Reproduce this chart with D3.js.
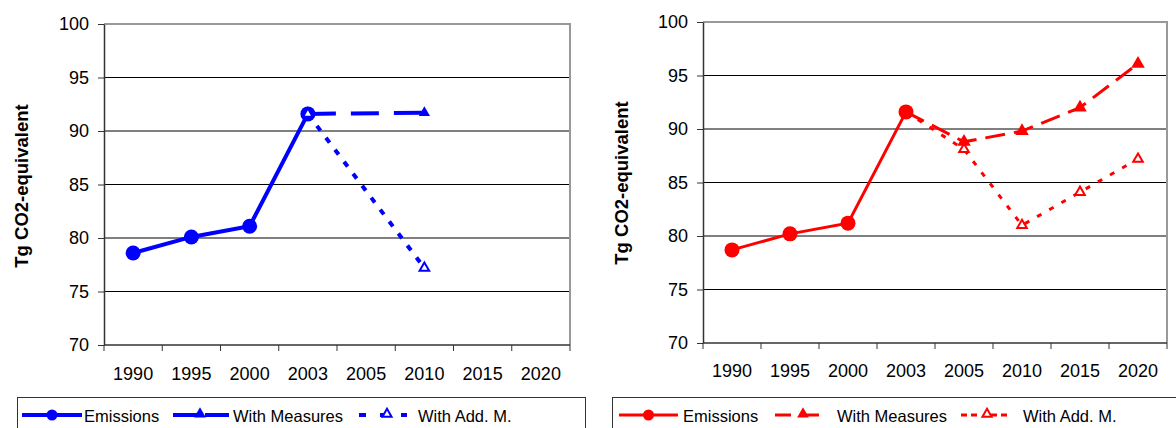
<!DOCTYPE html>
<meta charset="utf-8">
<body>
<script src="https://cdn.jsdelivr.net/npm/d3@7"></script>
<style>
    html, body {
        margin: 0;
        background: #fff;
    }
    text {
        font-family: "Liberation Sans", Arial, sans-serif;
        fill: #000;
    }
</style>
<script>
var years = ["1990", "1995", "2000", "2003", "2005", "2010", "2015", "2020"],
    yTicks = [70, 75, 80, 85, 90, 95, 100];

// left panel
var leftEmYears = ["1990", "1995", "2000", "2003"],
    leftEmissions = [78.6, 80.1, 81.1, 91.6],
    leftProjYears = ["2003", "2010"],
    leftWithMeasures = [91.6, 91.7],
    leftWithAddM = [91.6, 77.2];

// right panel
var rightEmYears = ["1990", "1995", "2000", "2003"],
    rightEmissions = [78.7, 80.2, 81.2, 91.6],
    rightProjYears = ["2003", "2005", "2010", "2015", "2020"],
    rightWithMeasures = [91.6, 88.8, 89.8, 92.0, 96.1],
    rightWithAddM = [91.6, 88.1, 81.0, 84.1, 87.2];

var legendLabels = ["Emissions", "With Measures", "With Add. M."];

var svg = d3.select("body").append("svg")
    .attr("width", 1176)
    .attr("height", 428);

function zip(ks, vs) {
    return ks.map(function(k, i) { return {year: k, value: vs[i]}; });
}

function chart(o) {
    var x = d3.scaleBand().domain(years).range([o.left, o.right]),
        y = d3.scaleLinear().domain([70, 100]).range([o.bottom, o.top]),
        cx = function(d) { return x(d.year) + x.bandwidth() / 2; },
        cy = function(d) { return y(d.value); };

    var g = svg.append("g");

    // grid
    g.selectAll(".grid")
        .data(yTicks.slice(1, -1))
        .enter().append("line")
        .attr("x1", o.left).attr("x2", o.right)
        .attr("y1", y).attr("y2", y)
        .attr("stroke", "#000")
        .attr("stroke-width", 1);

    // frame top + right
    g.append("path")
        .attr("d", "M" + o.left + "," + y(100) + "H" + o.right + "V" + o.bottom)
        .attr("fill", "none")
        .attr("stroke", "#999")
        .attr("stroke-width", 2);

    // y axis
    var ya = g.append("g")
        .attr("transform", "translate(" + o.left + ",0)")
        .call(d3.axisLeft(y).tickValues(yTicks).tickSize(6).tickSizeOuter(0).tickPadding(9));
    ya.select(".domain").attr("stroke", "#333").attr("stroke-width", 1.5);
    ya.selectAll(".tick line").attr("stroke", "#333");
    ya.selectAll("text").style("font-size", "18px").attr("fill", "#000");

    // x axis: ticks at band edges
    var xg = g.append("g").attr("transform", "translate(0," + o.bottom + ")");
    xg.append("line")
        .attr("x1", o.left).attr("x2", o.right)
        .attr("stroke", "#333").attr("stroke-width", 1.5);
    xg.selectAll(".xt")
        .data(years.map(x).concat([o.right]))
        .enter().append("line")
        .attr("x1", function(d) { return d; })
        .attr("x2", function(d) { return d; })
        .attr("y1", 0).attr("y2", 6)
        .attr("stroke", "#333");
    xg.selectAll(".xl")
        .data(years)
        .enter().append("text")
        .attr("x", function(d) { return x(d) + x.bandwidth() / 2; })
        .attr("y", o.labelY - o.bottom)
        .attr("text-anchor", "middle")
        .style("font-size", "18px")
        .text(function(d) { return d; });

    // y label
    g.append("text")
        .attr("transform", "translate(" + o.titleX + "," + o.titleY + ") rotate(-90)")
        .attr("text-anchor", "middle")
        .style("font-size", "18.5px")
        .style("font-weight", "bold")
        .text("Tg CO2-equivalent");

    var line = d3.line().x(cx).y(cy);
    var em = zip(o.emYears, o.emissions),
        wm = zip(o.projYears, o.withMeasures),
        am = zip(o.projYears, o.withAddM);

    g.append("path").datum(em).attr("d", line)
        .attr("fill", "none").attr("stroke", o.color).attr("stroke-width", o.lw);
    g.append("path").datum(wm).attr("d", line)
        .attr("fill", "none").attr("stroke", o.color).attr("stroke-width", o.lw)
        .attr("stroke-dasharray", o.wmDash);
    g.append("path").datum(am).attr("d", line)
        .attr("fill", "none").attr("stroke", o.color).attr("stroke-width", o.lw)
        .attr("stroke-dasharray", o.amDash);

    g.selectAll(".em").data(em).enter().append("circle")
        .attr("cx", cx).attr("cy", cy).attr("r", 7.5)
        .attr("fill", o.color);

    var tri = d3.symbol(d3.symbolTriangle);
    g.selectAll(".wm").data(wm.slice(1)).enter().append("path")
        .attr("transform", function(d) { return "translate(" + cx(d) + "," + cy(d) + ")"; })
        .attr("d", tri.size(o.wmSize))
        .attr("fill", o.color);
    g.selectAll(".am").data(am.slice(o.amFrom)).enter().append("path")
        .attr("transform", function(d) { return "translate(" + cx(d) + "," + cy(d) + ")"; })
        .attr("d", tri.size(40))
        .attr("fill", "#fff")
        .attr("stroke", o.color)
        .attr("stroke-width", 2);

    // legend
    var lg = svg.append("g");
    lg.append("rect")
        .attr("x", o.legX).attr("y", 397.5)
        .attr("width", o.legW).attr("height", 40)
        .attr("fill", "#fff").attr("stroke", "#333");
    var ly = 415, L = o.leg;
    lg.append("line").attr("x1", L[0][0]).attr("x2", L[0][1]).attr("y1", ly).attr("y2", ly)
        .attr("stroke", o.color).attr("stroke-width", o.lw);
    lg.append("circle").attr("cx", (L[0][0] + L[0][1]) / 2).attr("cy", ly).attr("r", 5.5)
        .attr("fill", o.color);
    lg.append("line").attr("x1", L[1][0]).attr("x2", L[1][1]).attr("y1", ly).attr("y2", ly)
        .attr("stroke", o.color).attr("stroke-width", o.lw)
        .attr("stroke-dasharray", o.legWmDash);
    lg.append("path").attr("transform", "translate(" + L[1][2] + "," + (ly - 1) + ")")
        .attr("d", tri.size(60)).attr("fill", o.color);
    lg.append("line").attr("x1", L[2][0]).attr("x2", L[2][1]).attr("y1", ly).attr("y2", ly)
        .attr("stroke", o.color).attr("stroke-width", o.lw)
        .attr("stroke-dasharray", o.legAmDash);
    lg.append("path").attr("transform", "translate(" + L[2][2] + "," + (ly - 1) + ")")
        .attr("d", tri.size(36)).attr("fill", "#fff").attr("stroke", o.color).attr("stroke-width", 2);
    lg.selectAll(".lt").data(legendLabels).enter().append("text")
        .attr("x", function(d, i) { return o.legText[i]; })
        .attr("y", ly + 6.5)
        .style("font-size", "16.5px")
        .text(function(d) { return d; });
}

chart({
    left: 104, right: 570, top: 24, bottom: 345, labelY: 380,
    titleX: 28, titleY: 186,
    color: "#0000ff", lw: 4,
    emYears: leftEmYears, emissions: leftEmissions,
    projYears: leftProjYears, withMeasures: leftWithMeasures, withAddM: leftWithAddM,
    wmDash: "28,15", amDash: "6,9", wmSize: 55, amFrom: 0,
    legX: 17.5, legW: 568,
    leg: [[22, 82], [173, 230, 200], [359, 407, 387]],
    legWmDash: "24,8", legAmDash: "7,14",
    legText: [84, 233, 418]
});

chart({
    left: 703, right: 1167, top: 22, bottom: 343, labelY: 377,
    titleX: 628, titleY: 183,
    color: "#ff0000", lw: 3,
    emYears: rightEmYears, emissions: rightEmissions,
    projYears: rightProjYears, withMeasures: rightWithMeasures, withAddM: rightWithAddM,
    wmDash: "20,9", amDash: "5,9", wmSize: 80, amFrom: 1,
    legX: 612.5, legW: 600,
    leg: [[619, 678], [775, 825, 803], [961, 1019, 987]],
    legWmDash: "16,12", legAmDash: "6,4,6,14",
    legText: [683, 837, 1023]
});
</script>
